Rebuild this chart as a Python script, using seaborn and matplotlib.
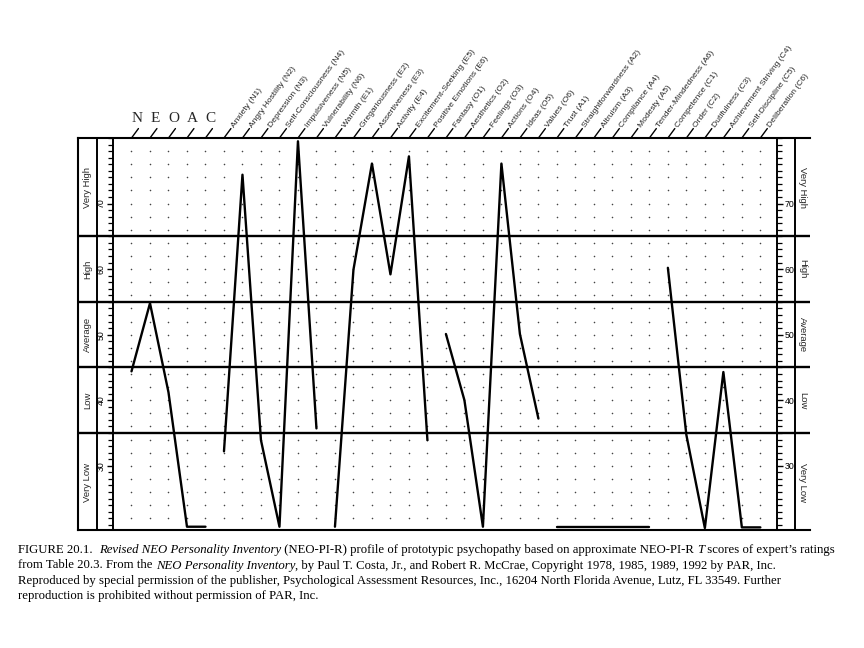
import numpy as np
import pandas as pd
import matplotlib
matplotlib.use("Agg")
import matplotlib.pyplot as plt
from matplotlib.ticker import MultipleLocator
import seaborn as sns

# ---------------- data ----------------
domains = ["N", "E", "O", "A", "C"]
domain_scores = [44.4, 54.8, 41.2, 20.7, 20.7]

n_facets = ["Anxiety (N1)", "Angry Hostility (N2)", "Depression (N3)",
            "Self-Consciousness (N4)", "Impulsiveness (N5)", "Vulnerability (N6)"]
n_scores = [32.2, 74.4, 33.9, 20.7, 79.5, 35.7]

e_facets = ["Warmth (E1)", "Gregariousness (E2)", "Assertiveness (E3)",
            "Activity (E4)", "Excitement-Seeking (E5)", "Positive Emotions (E6)"]
e_scores = [20.7, 59.9, 76.1, 59.2, 77.2, 33.9]

o_facets = ["Fantasy (O1)", "Aesthetics (O2)", "Feelings (O3)",
            "Actions (O4)", "Ideas (O5)", "Values (O6)"]
o_scores = [50.1, 40.0, 20.7, 76.1, 50.1, 37.2]

a_facets = ["Trust (A1)", "Straightforwardness (A2)", "Altruism (A3)",
            "Compliance (A4)", "Modesty (A5)", "Tender-Mindedness (A6)"]
a_scores = [20.6, 20.6, 20.6, 20.6, 20.6, 20.6]

c_facets = ["Competence (C1)", "Order (C2)", "Dutifulness (C3)",
            "Achievement Striving (C4)", "Self-Discipline (C5)", "Deliberation (C6)"]
c_scores = [60.2, 34.7, 20.5, 44.3, 20.6, 20.6]

bands = ["Very Low", "Low", "Average", "High", "Very High"]
band_edges = [35, 45, 55, 65]
band_centers = [27.5, 40, 50, 60, 72.5]
y_ticks = [30, 40, 50, 60, 70]

caption = [
    [("FIGURE 20.1.  ", "normal"), ("Revised NEO Personality Inventory", "italic"),
     (" (NEO-PI-R) profile of prototypic psychopathy based on approximate NEO-PI-R ", "normal"),
     ("T", "italic"), (" scores of expert\u2019s ratings", "normal")],
    [("from Table 20.3. From the ", "normal"), ("NEO Personality Inventory", "italic"),
     (", by Paul T. Costa, Jr., and Robert R. McCrae, Copyright 1978, 1985, 1989, 1992 by PAR, Inc.", "normal")],
    [("Reproduced by special permission of the publisher, Psychological Assessment Resources, Inc., 16204 North Florida Avenue, Lutz, FL 33549. Further", "normal")],
    [("reproduction is prohibited without permission of PAR, Inc.", "normal")],
]

# ---------------- table ----------------
groups = [("Domains", domains, domain_scores), ("N", n_facets, n_scores),
          ("E", e_facets, e_scores), ("O", o_facets, o_scores),
          ("A", a_facets, a_scores), ("C", c_facets, c_scores)]
rows = []
pos = 0
for g, labs, vals in groups:
    for lab, v in zip(labs, vals):
        rows.append({"pos": pos, "label": lab, "score": v, "group": g})
        pos += 1
df = pd.DataFrame(rows)

# ---------------- figure ----------------
sns.set_style("white")
plt.rcParams["font.family"] = ["Liberation Sans", "DejaVu Sans"]

W, H = 864, 648
fig = plt.figure(figsize=(8.64, 6.48), dpi=100)
fig.patch.set_facecolor("white")


def fx(px):
    return px / W


def fy(py):
    return 1 - py / H


TOP, BOT = 138, 530
Y0, Y1 = 20.2, 80.0
BGL, BGR = 78, 810

bg = fig.add_axes([fx(BGL), fy(BOT), (BGR - BGL) / W, (BOT - TOP) / H])
ax = fig.add_axes([fx(113), fy(BOT), (777 - 113) / W, (BOT - TOP) / H])
ax.patch.set_alpha(0)

# background frame with bands
bg.set_xlim(0, 1)
bg.set_ylim(Y0, Y1)
bg.set_xticks([])
bg.set_yticks([])
bg.spines["right"].set_visible(False)
for s in ["left", "top", "bottom"]:
    bg.spines[s].set_linewidth(1.5)
    bg.spines[s].set_color("black")
for b in band_edges:
    bg.axhline(b, color="black", lw=1.7)
bg.axvline((97 - BGL) / (BGR - BGL), color="black", lw=1.4)
bg.axvline((795 - BGL) / (BGR - BGL), color="black", lw=1.4)
for lab, c in zip(bands, band_centers):
    bg.text((87.5 - BGL) / (BGR - BGL), c, lab, rotation=90, ha="center",
            va="center", fontsize=6.8)
    bg.text((802.5 - BGL) / (BGR - BGL), c, lab, rotation=-90, ha="center",
            va="center", fontsize=6.8)

# main axes
ax.set_xlim(-1.0, 34.9)
ax.set_ylim(Y0, Y1)
ax.spines["top"].set_visible(False)
ax.spines["bottom"].set_visible(False)
for s in ["left", "right"]:
    ax.spines[s].set_linewidth(1.4)
    ax.spines[s].set_color("black")
ax.set_xticks([])
ax.set_yticks(y_ticks)
ax.yaxis.set_minor_locator(MultipleLocator(1))
ax.tick_params(axis="y", which="both", direction="out", left=True, right=True,
               labelleft=True, labelright=True, colors="black")
ax.tick_params(axis="y", which="major", length=4.5, width=1.0, labelsize=6.3, pad=1)
ax.tick_params(axis="y", which="minor", length=3.5, width=0.9)
for t in ax.yaxis.get_major_ticks():
    t.label1.set_rotation(90)
    t.label1.set_va("center")
    t.label2.set_rotation(0)

# dotted grid
gx, gy = np.meshgrid(df["pos"].to_numpy(), np.arange(22, 79, 2))
ax.scatter(gx.ravel(), gy.ravel(), s=1.3, color="#444444", linewidths=0, zorder=1)

# profile line
sns.lineplot(data=df, x="pos", y="score", units="group", estimator=None,
             color="black", lw=1.7, ax=ax, legend=False, sort=False, zorder=3)
ax.set_xlabel("")
ax.set_ylabel("")

# top slashes and labels
for p, lab, g in zip(df["pos"], df["label"], df["group"]):
    ax.annotate("", xy=(p, 1), xycoords=("data", "axes fraction"),
                xytext=(5.0, 6.8), textcoords="offset points",
                arrowprops=dict(arrowstyle="-", lw=1.0, color="black",
                                shrinkA=0, shrinkB=0), annotation_clip=False)
    if g == "Domains":
        ax.annotate(lab, xy=(p, 1), xycoords=("data", "axes fraction"),
                    xytext=(3.8, 14.0), textcoords="offset points",
                    ha="center", va="center", fontsize=11,
                    family=["Liberation Serif", "DejaVu Serif"],
                    annotation_clip=False)
    else:
        ax.annotate(lab, xy=(p, 1), xycoords=("data", "axes fraction"),
                    xytext=(6.0, 8.4), textcoords="offset points",
                    ha="left", va="center_baseline", rotation=54,
                    rotation_mode="anchor", fontsize=6.1,
                    annotation_clip=False)

# caption with mixed styles
renderer = fig.canvas.get_renderer()
cap_family = ["Liberation Serif", "DejaVu Serif"]


def width_of(txt, style, size):
    t1 = fig.text(0, 0, "x" + txt + "x", fontsize=size, fontstyle=style, family=cap_family)
    t2 = fig.text(0, 0, "xx", fontsize=size, fontstyle=style, family=cap_family)
    w = t1.get_window_extent(renderer).width - t2.get_window_extent(renderer).width
    t1.remove()
    t2.remove()
    return w


base = 10.0
w1 = sum(width_of(t, s, base) for t, s in caption[0])
cap_size = base * (836 - 18) / w1

baselines = [553, 568.5, 584, 599]
for parts, yb in zip(caption, baselines):
    x = 18.0
    for txt, style in parts:
        fig.text(fx(x), fy(yb), txt, fontsize=cap_size, fontstyle=style,
                 family=cap_family, ha="left", va="baseline", color="black")
        x += width_of(txt, style, cap_size)

fig.savefig("out.png", dpi=100)
